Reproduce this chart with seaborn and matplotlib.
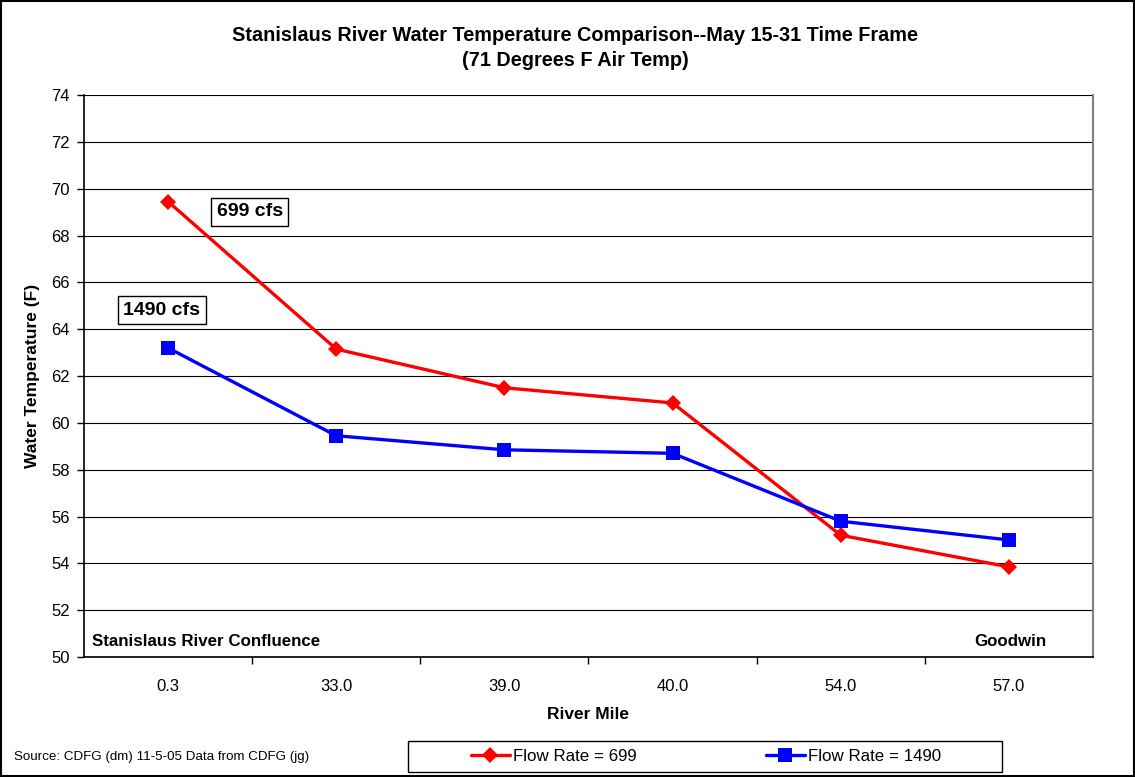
import pandas as pd
import matplotlib.pyplot as plt
import matplotlib.patches as patches
import seaborn as sns

# river miles (categorical) and temperatures
miles = ['0.3', '33.0', '39.0', '40.0', '54.0', '57.0']
temp_699 = [69.45, 63.15, 61.5, 60.85, 55.2, 53.85]
temp_1490 = [63.2, 59.45, 58.85, 58.7, 55.8, 55.0]
series_names = ['Flow Rate = 699', 'Flow Rate = 1490']
y_ticks = list(range(50, 75, 2))

data = pd.DataFrame({
    'mile': miles * 2,
    'temp': temp_699 + temp_1490,
    'flow': [series_names[0]] * len(miles) + [series_names[1]] * len(miles),
})

sns.set_style('ticks')
plt.rcParams['font.family'] = ['Liberation Sans', 'DejaVu Sans']
plt.rcParams['text.color'] = 'black'
plt.rcParams['axes.labelcolor'] = 'black'
plt.rcParams['xtick.color'] = 'black'
plt.rcParams['ytick.color'] = 'black'

fig = plt.figure(figsize=(11.35, 7.77), dpi=100)
ax = fig.add_axes([0.074, 0.1544, 0.889, 0.7233])

sns.lineplot(data=data, x='mile', y='temp', hue='flow', style='flow',
             palette={series_names[0]: '#ff0000', series_names[1]: '#0000ff'},
             markers={series_names[0]: 'D', series_names[1]: 's'},
             dashes=False, sort=False, linewidth=2.4, markersize=9,
             ax=ax, legend=True)
for line in ax.get_lines():
    line.set_markeredgecolor(line.get_color())
    line.set_markeredgewidth(0)
    if line.get_marker() == 's':
        line.set_markersize(10)
    elif line.get_marker() == 'D':
        line.set_markersize(8.5)
handles, labels = ax.get_legend_handles_labels()
if ax.get_legend() is not None:
    ax.get_legend().remove()

ax.set_ylim(50, 74)
ax.set_yticks(y_ticks)
ax.set_xlim(-0.5, len(miles) - 0.5)
ax.set_xticks(range(len(miles)))
ax.set_xticklabels(miles)
ax.set_xticks([i + 0.5 for i in range(len(miles) - 1)], minor=True)
ax.tick_params(axis='x', which='major', length=0, pad=16, labelsize=12)
ax.tick_params(axis='x', which='minor', length=5, width=1, color='black', direction='out')
ax.tick_params(axis='y', length=5, width=1, color='black', pad=5, labelsize=12, direction='out')
ax.yaxis.grid(True, color='black', linewidth=0.8)
ax.set_axisbelow(True)

for side in ['left', 'bottom']:
    ax.spines[side].set_color('black')
    ax.spines[side].set_linewidth(1.2)
ax.spines['top'].set_visible(False)
ax.spines['right'].set_color('#808080')
ax.spines['right'].set_linewidth(1.5)

ax.set_xlabel('River Mile', fontsize=12.5, fontweight='bold', labelpad=9)
ax.set_ylabel('Water Temperature (F)', fontsize=12.5, fontweight='bold', labelpad=8)

ax.text(0.008, 0.027, 'Stanislaus River Confluence', transform=ax.transAxes,
        fontsize=12.2, fontweight='bold', va='center', ha='left')
ax.text(0.954, 0.027, 'Goodwin', transform=ax.transAxes,
        fontsize=12.2, fontweight='bold', va='center', ha='right')

box = dict(boxstyle='square,pad=0.28', facecolor='white', edgecolor='black', linewidth=1)
ax.text(0.1645, 0.792, '699 cfs', transform=ax.transAxes, fontsize=14,
        fontweight='bold', ha='center', va='center', bbox=box)
ax.text(0.0773, 0.617, '1490 cfs', transform=ax.transAxes, fontsize=14,
        fontweight='bold', ha='center', va='center', bbox=box)

fig.text(0.5066, 0.954, 'Stanislaus River Water Temperature Comparison--May 15-31 Time Frame',
         fontsize=14.3, fontweight='bold', ha='center', va='center')
fig.text(0.5066, 0.922, '(71 Degrees F Air Temp)',
         fontsize=14.3, fontweight='bold', ha='center', va='center')

fig.text(0.012, 0.026, 'Source: CDFG (dm) 11-5-05 Data from CDFG (jg)',
         fontsize=9.6, ha='left', va='center')

fig.legend(handles, labels, loc='center', bbox_to_anchor=(0.622, 0.0264), ncol=2,
           frameon=False, fontsize=12.2, handlelength=2.3, handletextpad=0.2,
           columnspacing=7.6)
fig.patches.append(patches.Rectangle((408 / 1135, 0.0064), 594 / 1135, 0.04,
                                     transform=fig.transFigure, fill=False,
                                     edgecolor='black', linewidth=1))
fig.patches.append(patches.Rectangle((0.001, 0.001), 0.998, 0.998,
                                     transform=fig.transFigure, fill=False,
                                     edgecolor='black', linewidth=1.5))

fig.savefig('out.png', dpi=100)
